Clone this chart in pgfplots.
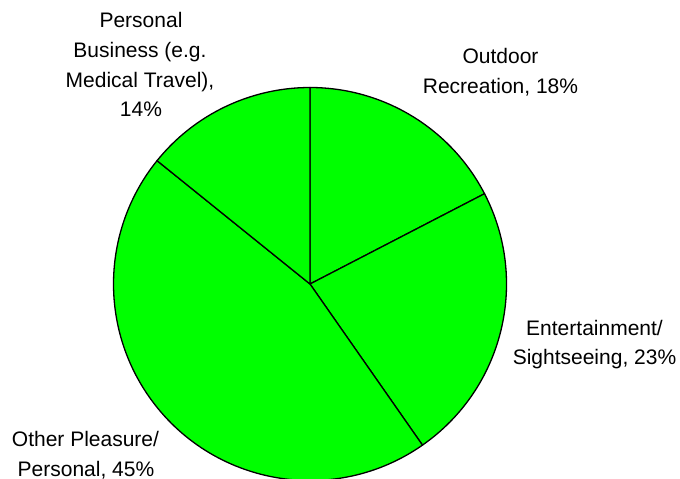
\documentclass[border=0pt]{standalone}
\usepackage{pgfplots}
\pgfplotsset{compat=1.18}
\usepackage{fontspec}
\setmainfont{Liberation Sans}
\definecolor{piegreen}{HTML}{00FF00}
% shares (percent), clockwise from 12 o'clock
\def\pOutdoor{17.4}
\def\pEnt{22.9}
\def\pOther{45.5}
\def\pBus{14.2}
\begin{document}
\begin{tikzpicture}
\begin{axis}[
  scale only axis, width=680bp, height=478bp,
  xmin=0, xmax=680, ymin=0, ymax=478, y dir=reverse,
  hide axis, clip=false,
]
\pgfmathsetmacro{\aA}{90}
\pgfmathsetmacro{\aB}{\aA-3.6*\pOutdoor}
\pgfmathsetmacro{\aC}{\aB-3.6*\pEnt}
\pgfmathsetmacro{\aD}{\aC-3.6*\pOther}
\pgfmathsetmacro{\aE}{\aD-3.6*\pBus}
\def\R{196.5bp}
\filldraw[fill=piegreen, draw=black, line width=1.3bp, line join=round]
  (axis cs:310,284) -- ++(\aA:\R) arc[start angle=\aA, end angle=\aB, radius=\R] -- cycle;
\filldraw[fill=piegreen, draw=black, line width=1.3bp, line join=round]
  (axis cs:310,284) -- ++(\aB:\R) arc[start angle=\aB, end angle=\aC, radius=\R] -- cycle;
\filldraw[fill=piegreen, draw=black, line width=1.3bp, line join=round]
  (axis cs:310,284) -- ++(\aC:\R) arc[start angle=\aC, end angle=\aD, radius=\R] -- cycle;
\filldraw[fill=piegreen, draw=black, line width=1.3bp, line join=round]
  (axis cs:310,284) -- ++(\aD:\R) arc[start angle=\aD, end angle=\aE, radius=\R] -- cycle;
\begin{scope}[every node/.style={anchor=base, inner sep=0pt, font=\fontsize{21bp}{29.5bp}\selectfont}]
\node at (axis cs:141,28) {Personal};
\node at (axis cs:140,57.5) {Business (e.g.};
\node at (axis cs:140,87) {Medical Travel),};
\node at (axis cs:141,116.8) {14\%};
\node at (axis cs:500.5,63.5) {Outdoor};
\node at (axis cs:500.5,93) {Recreation, 18\%};
\node at (axis cs:594.5,335) {Entertainment/};
\node at (axis cs:594.5,364.5) {Sightseeing, 23\%};
\node at (axis cs:85.5,446.5) {Other Pleasure/};
\node at (axis cs:86,476) {Personal, 45\%};
\end{scope}
\end{axis}
\pgfresetboundingbox
\path[use as bounding box] (current axis.south west) rectangle (current axis.north east);
\end{tikzpicture}
\end{document}
